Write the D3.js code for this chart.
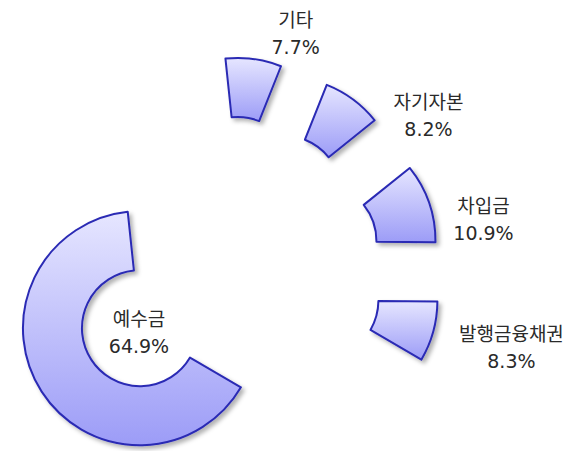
<!DOCTYPE html>
<html>
<head>
<meta charset="utf-8">
<script src="https://cdn.jsdelivr.net/npm/d3@7"></script>
<style>
  html, body { margin: 0; padding: 0; background: #ffffff; }
  svg { display: block; }
</style>
</head>
<body>
<svg id="chart" width="582" height="451"></svg>
<script>
// ---- data (clockwise from top) ----
const categories = ["기타", "자기자본", "차입금", "발행금융채권", "예수금"];
const values = [7.7, 8.2, 10.9, 8.3, 64.9];
const valueLabels = ["7.7%", "8.2%", "10.9%", "8.3%", "64.9%"];

// ---- layout ----
const W = 582, H = 451;
const center = [224, 274];
const outerR = 117, innerR = 58;
const explode = 100;
const startDeg = -6;
// label position relative to each slice's own (exploded) ring centre
const labelShift = [[58, -148], [145, -85], [165, -28], [191, 40], [-1, -2]];
const lineGap = 27;

const svg = d3.select("#chart");
const defs = svg.append("defs");

const grad = defs.append("linearGradient")
  .attr("id", "sliceGrad")
  .attr("x1", 0).attr("y1", 0).attr("x2", 0).attr("y2", 1);
grad.append("stop").attr("offset", "0%").attr("stop-color", "#e6e6ff");
grad.append("stop").attr("offset", "100%").attr("stop-color", "#9c9cf7");

const shadow = defs.append("filter").attr("id", "shadow")
  .attr("x", "-20%").attr("y", "-20%").attr("width", "140%").attr("height", "140%");
shadow.append("feDropShadow")
  .attr("dx", 3).attr("dy", 3).attr("stdDeviation", 2)
  .attr("flood-color", "#000").attr("flood-opacity", 0.3);

const toRad = d => d * Math.PI / 180;
const pie = d3.pie().sort(null).value(d => d)
  .startAngle(toRad(startDeg)).endAngle(toRad(startDeg + 360));
const arcs = pie(values);
const arc = d3.arc().innerRadius(innerR).outerRadius(outerR);

const g = svg.selectAll("g.slice").data(arcs).enter().append("g")
  .attr("class", "slice")
  .attr("transform", d => {
    const a = (d.startAngle + d.endAngle) / 2;
    const x = center[0] + explode * Math.sin(a);
    const y = center[1] - explode * Math.cos(a);
    return `translate(${x},${y})`;
  });

g.append("path")
  .attr("d", arc)
  .attr("fill", "url(#sliceGrad)")
  .attr("stroke", "#2a2ab4")
  .attr("stroke-width", 2)
  .attr("stroke-linejoin", "round")
  .attr("filter", "url(#shadow)");

const txt = g.append("text")
  .attr("text-anchor", "middle")
  .attr("font-family", "'DejaVu Sans', 'Noto Sans CJK KR', sans-serif")
  .attr("font-size", 19)
  .attr("fill", "#2a2a2a")
  .attr("transform", (d, i) => `translate(${labelShift[i][0]},${labelShift[i][1]})`);
txt.append("tspan").attr("x", 0).attr("y", 0).text((d, i) => categories[i]);
txt.append("tspan").attr("x", 0).attr("y", lineGap).text((d, i) => valueLabels[i]);
</script>
</body>
</html>
